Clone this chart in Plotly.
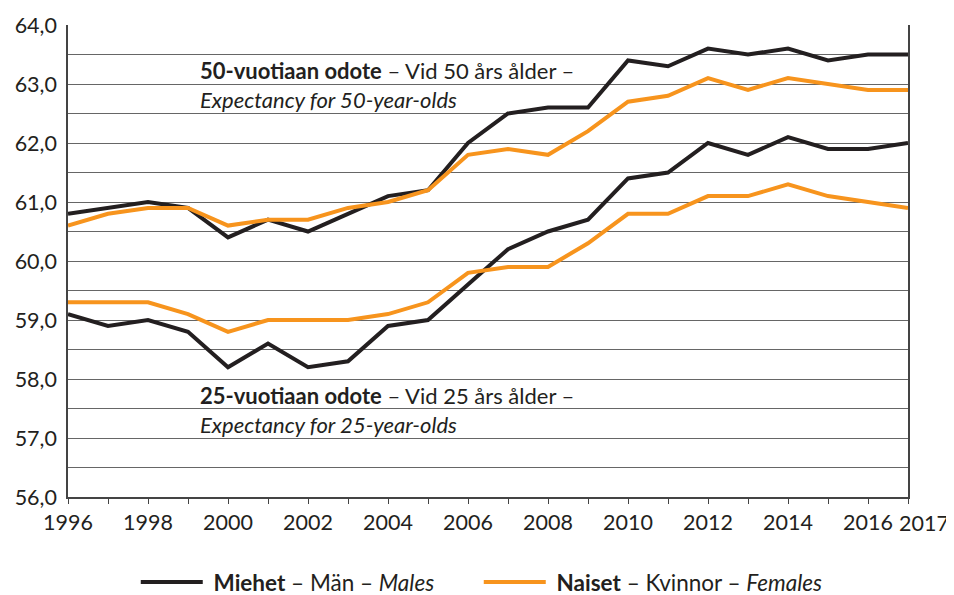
import plotly.graph_objects as go

years = list(range(1996, 2018))
men_50 = [60.8, 60.9, 61.0, 60.9, 60.4, 60.7, 60.5, 60.8, 61.1, 61.2, 62.0, 62.5, 62.6, 62.6, 63.4, 63.3, 63.6, 63.5, 63.6, 63.4, 63.5, 63.5]
women_50 = [60.6, 60.8, 60.9, 60.9, 60.6, 60.7, 60.7, 60.9, 61.0, 61.2, 61.8, 61.9, 61.8, 62.2, 62.7, 62.8, 63.1, 62.9, 63.1, 63.0, 62.9, 62.9]
men_25 = [59.1, 58.9, 59.0, 58.8, 58.2, 58.6, 58.2, 58.3, 58.9, 59.0, 59.6, 60.2, 60.5, 60.7, 61.4, 61.5, 62.0, 61.8, 62.1, 61.9, 61.9, 62.0]
women_25 = [59.3, 59.3, 59.3, 59.1, 58.8, 59.0, 59.0, 59.0, 59.1, 59.3, 59.8, 59.9, 59.9, 60.3, 60.8, 60.8, 61.1, 61.1, 61.3, 61.1, 61.0, 60.9]

x_tick_labels = [str(y) if (y % 2 == 0) else "" for y in years]
last_year_label = "2017"
y_tick_vals = [56, 57, 58, 59, 60, 61, 62, 63, 64]
y_tick_labels = ["56,0", "57,0", "58,0", "59,0", "60,0", "61,0", "62,0", "63,0", "64,0"]

BLACK = "#231f20"
ORANGE = "#f7941d"
FONT = "Lato"

fig = go.Figure()
fig.add_trace(go.Scatter(x=years, y=men_50, mode="lines", line=dict(color=BLACK, width=4),
                         name="\u00a0<b>Miehet</b> – Män – <i>Males</i>", legendgroup="m"))
fig.add_trace(go.Scatter(x=years, y=women_50, mode="lines", line=dict(color=ORANGE, width=4),
                         name="\u00a0<b>Naiset</b> – Kvinnor – <i>Females</i>", legendgroup="w"))
fig.add_trace(go.Scatter(x=years, y=men_25, mode="lines", line=dict(color=BLACK, width=4),
                         showlegend=False, legendgroup="m"))
fig.add_trace(go.Scatter(x=years, y=women_25, mode="lines", line=dict(color=ORANGE, width=4),
                         showlegend=False, legendgroup="w"))

fig.add_annotation(x=1999.25, y=62.99, xref="x", yref="y", xanchor="left", yanchor="middle", align="left",
                   showarrow=False,
                   text="<b>50-vuotiaan odote</b> – Vid 50 års ålder –<br><i>Expectancy for 50-year-olds</i>",
                   font=dict(family=FONT, size=22, color=BLACK))
fig.add_annotation(x=1999.25, y=57.47, xref="x", yref="y", xanchor="left", yanchor="middle", align="left",
                   showarrow=False,
                   text="<b>25-vuotiaan odote</b> – Vid 25 års ålder –<br><i>Expectancy for 25-year-olds</i>",
                   font=dict(family=FONT, size=22, color=BLACK))
fig.add_annotation(x=2017, y=0, xref="x", yref="paper", xanchor="left", yanchor="top",
                   xshift=-11, yshift=-11, showarrow=False, text=last_year_label,
                   font=dict(family=FONT, size=21.5, color=BLACK))

fig.update_layout(
    width=946, height=587,
    margin=dict(l=60, r=46, t=17, b=98, autoexpand=False),
    paper_bgcolor="white", plot_bgcolor="white",
    font=dict(family=FONT, size=21.5, color=BLACK),
    showlegend=True,
    legend=dict(orientation="h", xref="paper", x=0.489, xanchor="center",
                yref="paper", y=-0.181, yanchor="middle",
                entrywidth=266, entrywidthmode="pixels",
                font=dict(family=FONT, size=22.5, color=BLACK), itemwidth=62,
                traceorder="normal"),
    xaxis=dict(range=[1996, 2017], tickvals=years, ticktext=x_tick_labels, tickangle=0,
               ticks="outside", ticklen=5, tickcolor="#444", tickwidth=1,
               showgrid=False, showline=True, linecolor="#444", linewidth=1.5,
               zeroline=False, tickfont=dict(size=21.5), automargin=False),
    yaxis=dict(range=[56, 64], tickvals=y_tick_vals, ticktext=y_tick_labels,
               showgrid=True, gridcolor="#666", gridwidth=1,
               minor=dict(dtick=0.5, showgrid=True, gridcolor="#666", gridwidth=1),
               ticks="", showline=True, mirror=True, linecolor="#444", linewidth=1.5,
               ticklabelstandoff=5,
               zeroline=False, tickfont=dict(size=21.5), automargin=False),
)

fig.write_html("out.html", config={"displayModeBar": False})
